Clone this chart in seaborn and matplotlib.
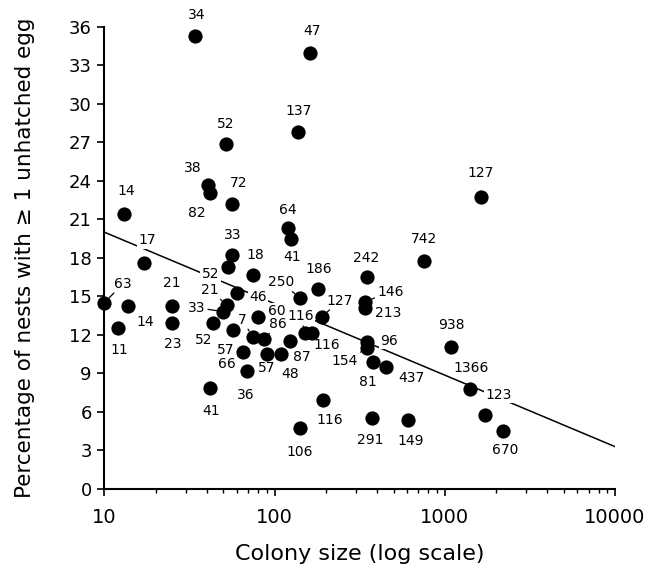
import numpy as np
import pandas as pd
import matplotlib
matplotlib.use("Agg")
import matplotlib.pyplot as plt
import matplotlib.ticker as mticker
import seaborn as sns

# colony size, % nests with >=1 unhatched egg, label (sample size)
colony_size = [34.2, 162, 51.8, 138, 40.9, 41.9, 56.2, 13.0, 120, 125.4,
               17.1, 56.6, 53.6, 75.0, 180, 350, 760, 1622, 10.0, 13.8,
               12.0, 25.1, 25.1, 60.1, 52.5, 50.1, 43.8, 57.4, 74.6, 80.5,
               87.0, 141.6, 151.6, 166, 123.7, 90.2, 109.1, 65.7, 68.8, 41.9,
               190, 341.6, 341.6, 349.6, 349.6, 379, 454, 192.6, 141.6, 374,
               605, 1094, 1403, 1718, 2206]
pct_unhatched = [35.28, 33.98, 26.85, 27.78, 23.68, 23.03, 22.20, 21.39, 20.30, 19.47,
                 17.58, 18.22, 17.31, 16.67, 15.58, 16.53, 17.78, 22.76, 14.51, 14.25,
                 12.52, 14.25, 12.95, 15.24, 14.33, 13.81, 12.91, 12.38, 11.86, 13.37,
                 11.68, 14.85, 12.13, 12.13, 11.53, 10.49, 10.49, 10.65, 9.21, 7.89,
                 13.42, 14.59, 14.07, 11.47, 10.96, 9.91, 9.48, 6.93, 4.77, 5.51,
                 5.37, 11.08, 7.76, 5.76, 4.52]
point_labels = ["34", "47", "52", "137", "38", "82", "72", "14", "64", "41",
                "17", "33", "52", "18", "186", "242", "742", "127", "63", "14",
                "11", "21", "23", "46", "21", "33", "52", "57", "7", "60",
                "86", "250", "116", "116", "87", "57", "48", "66", "36", "41",
                "127", "146", "213", "96", "154", "81", "437", "116", "106", "291",
                "149", "938", "1366", "123", "670"]

# fitted regression line (endpoints)
fit_x = [10, 10000]
fit_y = [20.0, 3.3]

# label placement: offsets in pixels (dx right, dy up) and leader lines
label_dx = [1, 2, 0, 0, -16, -13, 7, 3, 0, 1,
            3, 0, -18, 2, 1, -1, 0, 0, 19, 17,
            2, -1, 0, 21, -17, -27, -10, -8, -11, 18,
            14, -19, -5, 15, 12, 0, 9, -17, -1, 1,
            18, 25, 23, 22, -22, -5, 25, 7, -1, -2,
            3, 0, 1, 14, 2]
label_dy = [21, 22, 20, 21, 17, -20, 21, 23, 18, -18,
            23, 20, -7, 20, 20, 19, 22, 24, 19, -16,
            -22, 23, -21, -4, 15, 4, -17, -20, 17, 6,
            15, 16, 17, -12, -16, -14, -20, -12, -24, -23,
            16, 10, -5, 1, -13, -20, -11, -20, -24, -22,
            -21, 22, 21, 20, -19]
leader = {18, 24, 25, 28, 30, 31, 32, 33, 37, 40, 41, 44}

df = pd.DataFrame({"size": colony_size, "pct": pct_unhatched, "label": point_labels})
fit = pd.DataFrame({"size": fit_x, "pct": fit_y})

sns.set_style("ticks")
plt.rcParams["font.family"] = ["DejaVu Sans"]
plt.rcParams.update({"text.color": "black", "axes.labelcolor": "black",
                     "xtick.color": "black", "ytick.color": "black",
                     "axes.edgecolor": "black"})

fig, ax = plt.subplots(figsize=(6.45, 5.7), dpi=100)
fig.subplots_adjust(left=0.1617, right=0.9535, bottom=0.1421, top=0.9532)

sns.lineplot(data=fit, x="size", y="pct", color="black", linewidth=1.1, ax=ax, zorder=1)
sns.scatterplot(data=df, x="size", y="pct", color="black", s=105, edgecolor="black",
                linewidth=0, ax=ax, zorder=5, clip_on=False)

for i, row in df.iterrows():
    arrow = None
    if i in leader:
        arrow = dict(arrowstyle="-", color="black", lw=0.9, shrinkA=1, shrinkB=5)
    ax.annotate(row["label"], (row["size"], row["pct"]),
                xytext=(label_dx[i], label_dy[i]), textcoords="offset pixels",
                ha="center", va="center", fontsize=10, zorder=3,
                bbox=dict(boxstyle="square,pad=0.1", fc="white", ec="none"),
                arrowprops=arrow)

ax.set_xscale("log")
ax.set_xlim(10, 10000)
ax.set_ylim(0, 36)
ax.set_yticks(np.arange(0, 37, 3))
ax.xaxis.set_major_locator(mticker.FixedLocator([10, 100, 1000, 10000]))
ax.xaxis.set_major_formatter(mticker.FuncFormatter(lambda v, p: f"{int(v)}"))
ax.xaxis.set_minor_locator(mticker.LogLocator(base=10, subs=np.arange(2, 10)))
ax.xaxis.set_minor_formatter(mticker.NullFormatter())

ax.tick_params(axis="y", labelsize=13, length=5, width=1.2, pad=4)
ax.tick_params(axis="x", which="major", labelsize=14, length=5, width=1.2, pad=9)
ax.tick_params(axis="x", which="minor", length=3, width=1.0)
for s in ["left", "bottom"]:
    ax.spines[s].set_linewidth(1.5)
sns.despine(ax=ax)

ax.set_xlabel("Colony size (log scale)", fontsize=16, labelpad=12)
ax.set_ylabel("Percentage of nests with \u2265 1 unhatched egg", fontsize=15.5, labelpad=24)

fig.savefig("out.png", dpi=100)
